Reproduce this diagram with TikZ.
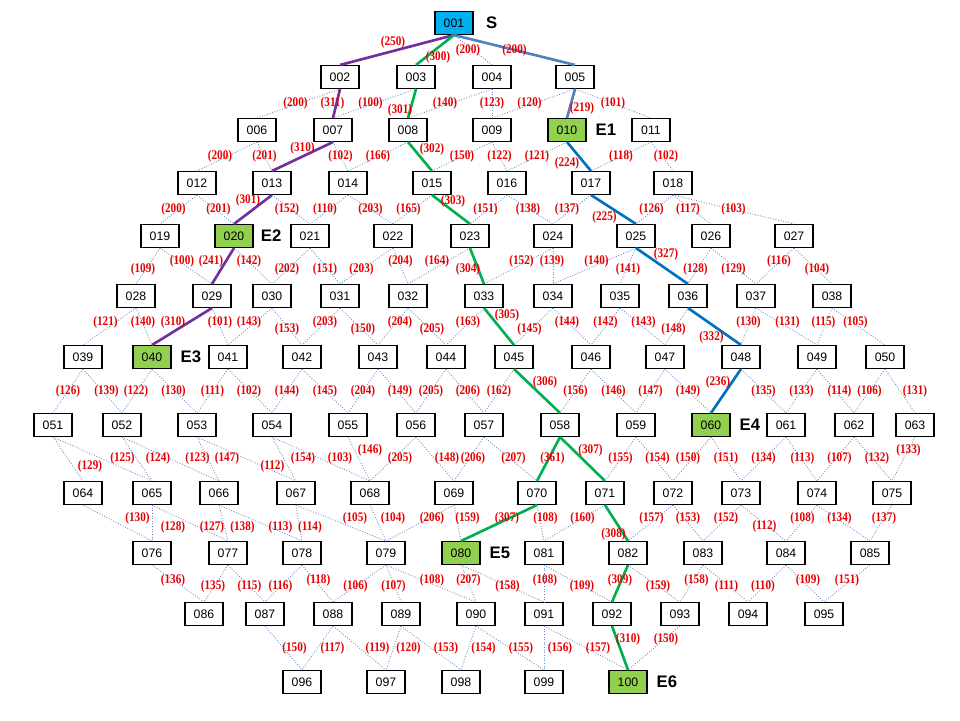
\documentclass[tikz,border=0pt]{standalone}
\usepackage{fontspec}
\usepackage{tikz}
\usetikzlibrary{positioning}
\setmainfont{Liberation Sans}
\newfontfamily\wtfamily[FakeStretch=0.85]{Liberation Serif}

\definecolor{linkblue}{RGB}{105,140,200}
\definecolor{wtred}{RGB}{230,0,0}
\definecolor{purplepath}{RGB}{112,48,160}
\definecolor{greenpath}{RGB}{0,176,80}
\definecolor{steelpath}{RGB}{79,129,189}
\definecolor{bluepath}{RGB}{0,112,192}
\definecolor{startblue}{RGB}{0,176,240}
\definecolor{endgreen}{RGB}{146,208,80}

\tikzset{
  box/.style={draw, line width=0.6pt, fill=white, minimum width=0.76cm, minimum height=0.46cm,
    inner sep=0pt, font=\fontsize{7}{8}\selectfont},
  startbox/.style={box, fill=startblue},
  endbox/.style={box, fill=endgreen},
  lnk/.style={draw=linkblue, densely dotted, line width=0.5pt},
  wt/.style={text=wtred, inner sep=0pt, font=\wtfamily\bfseries\fontsize{7.5}{8}\selectfont},
  tag/.style={inner sep=0pt, font=\bfseries\fontsize{9.5}{10}\selectfont},
  pathP/.style={draw=purplepath, line width=1.5pt},
  pathG/.style={draw=greenpath, line width=1.5pt},
  pathS/.style={draw=steelpath, line width=1.5pt},
  pathB/.style={draw=bluepath, line width=1.5pt}
}

\begin{document}
\begin{tikzpicture}[x=0.02cm, y=-0.02cm]
  \useasboundingbox (0,0) rectangle (960,720);

  % nodes, row by row
  \foreach \n/\x/\y in {
      002/340/77, 003/416/77, 004/492/77, 005/575/77,
      006/257/130, 007/333/130, 008/408/130, 009/492/130, 011/651/130,
      012/197/183, 013/272/183, 014/348/183, 015/432/183, 016/507/183, 017/591/183, 018/673/183,
      019/160/236, 021/310/236, 022/393/236, 023/470/236, 024/553/236, 025/636/236, 026/711/236, 027/794/236,
      028/136/296, 029/212/296, 030/272/296, 031/340/296, 032/408/296, 033/484/296, 034/553/296,
      035/620/296, 036/688/296, 037/756/296, 038/832/296,
      039/83/357, 041/228/357, 042/302/357, 043/378/357, 044/446/357, 045/514/357, 046/591/357,
      047/665/357, 048/741/357, 049/817/357, 050/885/357,
      051/53/425, 052/122/425, 053/197/425, 054/272/425, 055/348/425, 056/416/425, 057/484/425,
      058/560/425, 059/636/425, 061/786/425, 062/854/425, 063/915/425,
      064/83/493, 065/152/493, 066/219/493, 067/296/493, 068/370/493, 069/454/493, 070/537/493,
      071/605/493, 072/673/493, 073/741/493, 074/817/493, 075/892/493,
      076/152/553, 077/228/553, 078/302/553, 079/386/553, 081/544/553, 082/628/553, 083/703/553,
      084/786/553, 085/870/553,
      086/204/614, 087/265/614, 088/333/614, 089/401/614, 090/476/614, 091/544/614, 092/612/614,
      093/680/614, 094/748/614, 095/824/614,
      096/302/682, 097/386/682, 098/461/682, 099/544/682}
    \node[box] (n\n) at (\x,\y) {\n};

  \node[startbox] (n001) at (454,23) {001};
  \node[endbox] (n010) at (567,130) {010};
  \node[endbox] (n020) at (234,236) {020};
  \node[endbox] (n040) at (152,357) {040};
  \node[endbox] (n060) at (711,425) {060};
  \node[endbox] (n080) at (461,553) {080};
  \node[endbox] (n100) at (628,682) {100};

  \node[tag, right=7pt of n001] (tS) {S};
  \node[tag, right=5pt of n010] (tE1) {E1};
  \node[tag, right=4pt of n020] (tE2) {E2};
  \node[tag, right=5pt of n040] (tE3) {E3};
  \node[tag, right=5pt of n060] (tE4) {E4};
  \node[tag, right=5pt of n080] (tE5) {E5};
  \node[tag, right=5pt of n100] (tE6) {E6};

  % dotted links with weights
  \foreach \a/\b/\w/\dx/\dy in {
      001/004/200/-5/0,
      002/006/200/-3/0, 003/007/100/-4/0, 004/008/140/-5/0, 004/009/123/0/0, 005/009/120/-4/0, 005/011/101/0/0,
      006/012/200/-7/0, 006/013/201/0/0, 007/014/102/0/0, 008/014/166/0/0, 009/015/150/0/0, 009/016/122/0/0,
      010/016/121/0/0, 011/017/118/0/0, 011/018/102/4/0,
      012/019/200/-5/0, 012/020/201/3/0, 013/021/152/-4/0, 014/021/110/-4/0, 014/022/203/0/0, 015/022/165/-4/0,
      016/023/151/-3/0, 016/024/138/-2/0, 017/024/137/-5/0, 018/025/126/-3/0, 018/026/117/-4/0, 018/027/103/0/0,
      019/028/109/-5/3, 019/029/100/-4/-5, 020/030/142/-4/-5, 021/030/202/-4/3, 021/031/151/0/3,
      022/031/203/-5/3, 022/032/204/0/-5, 023/032/164/-2/-5, 024/033/152/3/-5, 024/034/139/-1/-5,
      025/034/140/2/-5, 025/035/141/0/3, 026/036/128/-4/3, 026/037/129/0/3, 027/037/116/4/-5, 027/038/104/4/3,
      028/039/121/-4/-4, 028/040/140/-1/-4, 029/041/101/0/-4, 030/041/143/-1/-4, 030/042/153/0/3,
      031/042/203/4/-4, 031/043/150/4/3, 032/043/204/7/-4, 032/044/205/5/3, 033/044/163/3/-4,
      034/045/145/-4/3, 034/046/144/-5/-4, 035/046/142/0/-4, 035/047/143/1/-4, 036/047/148/-3/3,
      037/048/130/0/-4, 037/049/131/1/-4, 038/049/115/-1/-4, 038/050/105/-3/-4,
      039/051/126/0/0, 039/052/139/4/0, 040/052/122/-1/0, 040/053/130/-1/0, 041/053/111/0/0, 041/054/102/-1/0,
      042/054/144/0/0, 042/055/145/0/0, 043/055/204/0/0, 043/056/149/3/0, 044/056/205/0/0, 044/057/206/3/0,
      045/057/162/0/0, 046/058/156/0/0, 046/059/146/0/0, 047/059/147/0/0, 047/060/149/0/0, 048/061/135/0/0,
      049/061/133/0/0, 049/062/114/4/0, 050/062/106/0/0, 050/063/131/15/0,
      051/064/129/22/7, 051/065/125/20/-1, 052/065/124/21/-1, 052/066/123/27/-1, 053/066/147/19/-1,
      053/067/112/26/7, 054/067/154/19/-1, 054/068/103/19/-1, 055/068/146/11/-9, 056/068/205/7/-1,
      056/069/148/12/-1, 057/069/206/4/-1, 057/070/207/3/-1, 059/071/155/0/-1, 059/072/154/3/-1,
      060/072/150/-4/-1, 060/073/151/0/-1, 061/073/134/0/-1, 061/074/113/1/-1, 062/074/107/4/-1,
      062/075/132/4/-1, 063/075/133/5/-9,
      064/076/130/20/-5, 065/076/128/21/4, 065/077/127/22/4, 066/077/138/19/4, 066/078/113/20/4,
      067/078/114/11/4, 067/079/105/14/-5, 068/079/104/15/-5, 069/079/206/12/-5, 069/080/159/10/-5,
      070/081/108/5/-5, 071/081/160/8/-5, 072/082/157/1/-5, 072/083/153/0/-5, 073/083/152/4/-5,
      073/084/112/1/3, 074/084/108/1/-5, 074/085/134/-4/-5, 075/085/137/3/-5,
      076/086/136/-5/-3, 077/086/135/-3/3, 077/087/115/3/3, 078/087/116/-3/3, 078/088/118/1/-3,
      079/088/106/-4/3, 079/089/107/0/3, 079/090/108/1/-3, 080/090/207/0/-3, 080/091/158/5/3,
      081/091/108/1/-3, 081/092/109/4/3, 082/093/159/4/3, 083/093/158/5/-3, 083/094/111/1/3,
      084/094/110/-4/3, 084/095/109/3/-3, 085/095/151/0/-3,
      087/096/150/11/0, 088/096/117/15/0, 088/097/119/18/0, 089/097/120/15/0, 089/098/153/15/0,
      090/098/154/15/0, 090/099/155/11/0, 091/099/156/16/0, 091/100/157/12/0, 093/100/150/12/-9}
    \draw[lnk] (n\a.south) -- node[wt, shift={(\dx,\dy)}] {(\w)} (n\b.north);

  % the found paths
  \foreach \a/\b/\w/\dx/\dy/\s in {
      001/002/250/-4/-8/pathP, 002/007/311/-4/0/pathP, 007/013/310/0/-8/pathP,
      013/020/301/-5/-9/pathP, 020/029/241/-12/-5/pathP, 029/040/310/-9/-4/pathP,
      001/003/300/3/7/pathG, 003/008/301/-12/7/pathG, 008/015/302/12/-7/pathG, 015/023/303/2/-8/pathG,
      023/033/304/-9/3/pathG, 033/045/305/8/-11/pathG, 045/058/306/8/-9/pathG, 058/070/361/4/-1/pathG,
      058/071/307/8/-9/pathG, 070/080/307/8/-5/pathG, 071/082/308/-3/11/pathG, 082/092/309/0/-3/pathG,
      092/100/310/8/-9/pathG,
      001/005/200/0/0/pathS, 005/010/219/11/5/pathS,
      010/017/224/-12/7/pathB, 017/025/225/-9/8/pathB, 025/036/327/4/-12/pathB,
      036/048/332/-3/11/pathB, 048/060/236/-8/-9/pathB}
    \draw[style=\s] (n\a.south) -- node[wt, shift={(\dx,\dy)}] {(\w)} (n\b.north);
\end{tikzpicture}
\end{document}
